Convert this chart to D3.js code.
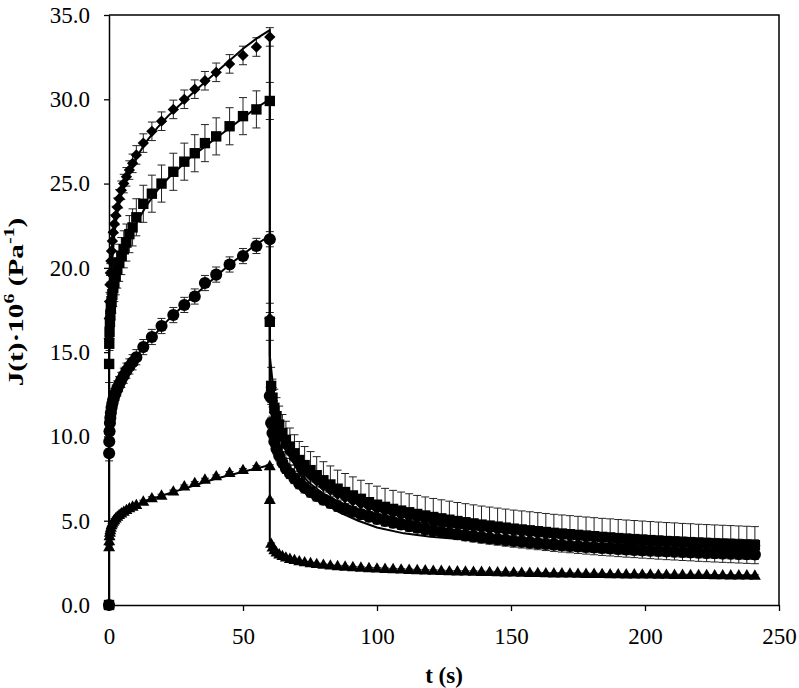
<!DOCTYPE html>
<html>
<head>
<meta charset="utf-8">
<script src="https://cdn.jsdelivr.net/npm/d3@7"></script>
<style>
body { margin: 0; background: #fff; }
svg text { font-family: "Liberation Serif", "Times New Roman", serif; fill: #000; }
</style>
</head>
<body>
<svg id="chart" width="799" height="688"></svg>
<script>
'use strict';

// creep phase sampling (s)
var creepTime = [0, 0.05, 0.1, 0.2, 0.35, 0.5, 0.7, 0.95, 1.25, 1.6, 2.0, 2.5, 3.1, 3.8, 4.6, 5.5, 6.5, 7.6, 8.8, 10.2,
	12.8, 16.0, 19.6, 24.0, 28.1, 32.0, 35.8, 40.0, 45.0, 50.0, 55.0, 60.0];

// recovery phase sampling (s)
var recTime = [60.0, 60.5, 61.0, 61.7, 62.5, 63.5, 64.7, 66.0, 67.5, 69.2, 71.0, 73.0, 75.2, 77.5, 80.0, 82.6, 85.3, 88.1, 91.0, 94.0, 97.0,
	100, 103, 106, 109, 112, 115, 118, 121, 124, 127, 130, 133, 136, 139, 142, 145, 148, 151, 154, 157, 160,
	163, 166, 169, 172, 175, 178, 181, 184, 187, 190, 193, 196, 199, 202, 205, 208, 211, 214, 217, 220,
	223, 226, 229, 232, 235, 238, 241];

// J(t)*1e6 measured
var diamondCreep = [0, 15.8, 17.0, 18.0, 19.0, 19.7, 20.4, 21.0, 21.6, 22.1, 22.6, 23.1, 23.6, 24.1, 24.6, 25.0, 25.4, 25.8, 26.2, 26.7,
	27.4, 28.1, 28.7, 29.4, 30.0, 30.6, 31.1, 31.6, 32.1, 32.6, 33.1, 33.7];
var squareCreep = [0, 14.3, 15.5, 16.2, 16.8, 17.2, 17.6, 18.0, 18.4, 18.8, 19.1, 19.5, 19.9, 20.3, 20.7, 21.1, 21.5, 22.0, 22.4, 23.0,
	23.8, 24.4, 25.0, 25.7, 26.3, 26.8, 27.4, 27.8, 28.4, 29.0, 29.4, 29.9];
var circleCreep = [0, 9.0, 9.7, 10.3, 10.8, 11.1, 11.4, 11.7, 11.95, 12.2, 12.4, 12.6, 12.85, 13.1, 13.35, 13.6, 13.9, 14.15, 14.4, 14.7,
	15.3, 15.9, 16.55, 17.2, 17.8, 18.3, 19.1, 19.6, 20.2, 20.7, 21.3, 21.7];
var triangleCreep = [0, 3.4, 3.75, 4.05, 4.25, 4.4, 4.55, 4.7, 4.8, 4.9, 5.0, 5.1, 5.2, 5.3, 5.4, 5.5, 5.6, 5.7, 5.8, 5.9,
	6.1, 6.3, 6.45, 6.7, 7.0, 7.2, 7.4, 7.6, 7.8, 7.97, 8.15, 8.2];

var diamondRec = [17.0, 12.9, 12.1, 11.4, 10.9, 10.4, 9.9, 9.45, 9.05, 8.65, 8.3, 7.95, 7.65, 7.35, 7.05, 6.8, 6.57, 6.36, 6.17, 5.99, 5.83,
	5.68, 5.55, 5.43, 5.32, 5.22, 5.12, 5.03, 4.95, 4.87, 4.8, 4.73, 4.66, 4.6, 4.54, 4.48, 4.43, 4.38, 4.33, 4.28, 4.24, 4.2,
	4.16, 4.12, 4.08, 4.05, 4.01, 3.98, 3.95, 3.92, 3.89, 3.86, 3.84, 3.81, 3.79, 3.76, 3.74, 3.72, 3.7, 3.68, 3.66, 3.64,
	3.62, 3.6, 3.58, 3.57, 3.55, 3.53, 3.52];
var squareRec = [16.8, 13.0, 12.3, 11.7, 11.2, 10.7, 10.2, 9.8, 9.4, 9.0, 8.6, 8.3, 8.0, 7.7, 7.4, 7.15, 6.9, 6.7, 6.5, 6.3, 6.1,
	5.95, 5.82, 5.7, 5.6, 5.5, 5.4, 5.31, 5.22, 5.14, 5.06, 4.98, 4.91, 4.84, 4.77, 4.71, 4.65, 4.59, 4.53, 4.48, 4.43, 4.38,
	4.33, 4.28, 4.24, 4.2, 4.16, 4.12, 4.08, 4.04, 4.01, 3.97, 3.94, 3.91, 3.88, 3.85, 3.82, 3.79, 3.77, 3.74, 3.72, 3.69,
	3.67, 3.65, 3.63, 3.61, 3.59, 3.57, 3.55];
var circleRec = [12.4, 10.8, 10.2, 9.7, 9.25, 8.85, 8.45, 8.1, 7.8, 7.5, 7.2, 6.95, 6.7, 6.47, 6.25, 6.05, 5.86, 5.69, 5.53, 5.38, 5.24,
	5.11, 4.99, 4.88, 4.78, 4.68, 4.59, 4.5, 4.42, 4.34, 4.27, 4.2, 4.13, 4.07, 4.01, 3.95, 3.9, 3.85, 3.8, 3.75, 3.7, 3.66,
	3.62, 3.58, 3.54, 3.5, 3.47, 3.44, 3.41, 3.38, 3.35, 3.32, 3.29, 3.27, 3.24, 3.22, 3.2, 3.18, 3.16, 3.14, 3.12, 3.1,
	3.08, 3.07, 3.05, 3.04, 3.02, 3.01, 3.0];
var triangleRec = [6.2, 3.6, 3.38, 3.22, 3.08, 2.97, 2.87, 2.78, 2.7, 2.63, 2.56, 2.5, 2.45, 2.4, 2.35, 2.31, 2.27, 2.24, 2.21, 2.18, 2.15,
	2.13, 2.11, 2.09, 2.07, 2.05, 2.03, 2.02, 2.0, 1.99, 1.97, 1.96, 1.95, 1.94, 1.93, 1.92, 1.91, 1.9, 1.89, 1.88, 1.87, 1.86,
	1.85, 1.84, 1.84, 1.83, 1.82, 1.81, 1.81, 1.8, 1.79, 1.79, 1.78, 1.78, 1.77, 1.77, 1.76, 1.76, 1.75, 1.75, 1.74, 1.74,
	1.74, 1.73, 1.73, 1.72, 1.72, 1.72, 1.71];

// standard deviation of each series (creep, recovery)
var sdCreep = [0.55, 1.1, 0.45, 0.12];
var sdRec = [0.35, 1.1, 0.3, 0.08];

// model fit (Burgers) lines
var fitTime = [0, 0, 0.5, 1, 2, 3, 5, 7, 10, 14, 18, 22, 26, 30, 35, 40, 45, 50, 55, 60,
	60, 61, 62, 64, 66, 68, 71, 75, 80, 86, 93, 100, 110, 120, 135, 150, 170, 190, 215, 240];
var diamondFit = [0, 15.6, 18.3, 20.0, 22.0, 23.2, 24.6, 25.5, 26.5, 27.5, 28.3, 29.0, 29.6, 30.2, 30.9, 31.6, 32.3, 33.0, 33.6, 34.1,
	14.8, 13.3, 12.1, 10.6, 9.5, 8.7, 7.8, 6.9, 6.1, 5.5, 5.0, 4.6, 4.25, 4.05, 3.85, 3.75, 3.65, 3.6, 3.55, 3.5];
var squareFit = [0, 14.5, 16.8, 17.9, 19.1, 19.8, 20.8, 21.6, 22.6, 23.7, 24.6, 25.3, 25.9, 26.5, 27.1, 27.7, 28.3, 28.9, 29.5, 30.0,
	13.5, 12.4, 11.5, 10.3, 9.4, 8.7, 7.9, 7.2, 6.6, 6.1, 5.7, 5.4, 5.05, 4.8, 4.5, 4.3, 4.05, 3.85, 3.65, 3.5];
var circleFit = [0, 9.0, 10.9, 11.6, 12.3, 12.8, 13.45, 14.0, 14.7, 15.5, 16.2, 16.9, 17.5, 18.1, 18.8, 19.5, 20.2, 20.8, 21.4, 21.9,
	12.0, 11.0, 10.2, 9.2, 8.5, 7.9, 7.3, 6.7, 6.2, 5.75, 5.35, 5.05, 4.7, 4.45, 4.15, 3.95, 3.7, 3.5, 3.3, 3.15];
var triangleFit = [0, 3.4, 4.3, 4.6, 4.95, 5.15, 5.45, 5.65, 5.9, 6.2, 6.4, 6.6, 6.8, 7.0, 7.25, 7.5, 7.7, 7.9, 8.1, 8.3,
	3.8, 3.4, 3.15, 2.9, 2.75, 2.6, 2.5, 2.4, 2.3, 2.2, 2.12, 2.06, 2.0, 1.95, 1.9, 1.86, 1.82, 1.78, 1.75, 1.72];

var xTicks = [0, 50, 100, 150, 200, 250];
var yTicks = [0, 5, 10, 15, 20, 25, 30, 35];

var margin = {top: 15, right: 20, bottom: 83, left: 109},
	width = 799, height = 688;

function toPoints(times, values, sd) {
	var ret = [];
	for (var i = 0; i < times.length; i++) {
		ret.push({t: times[i], j: values[i], sd: values[i] === 0 ? 0 : sd});
	}
	return ret;
}

function toLine(times, values) {
	return times.map(function (t, i) { return {t: t, j: values[i]}; });
}

var series = [
	{name: 'triangle', creep: triangleCreep, rec: triangleRec, fit: triangleFit, sd: 3,
		symbol: d3.symbol(d3.symbolTriangle, 62), rotate: 0},
	{name: 'circle', creep: circleCreep, rec: circleRec, fit: circleFit, sd: 2,
		symbol: d3.symbol(d3.symbolCircle, 115), rotate: 0},
	{name: 'diamond', creep: diamondCreep, rec: diamondRec, fit: diamondFit, sd: 0,
		symbol: d3.symbol(d3.symbolSquare, 64), rotate: 45},
	{name: 'square', creep: squareCreep, rec: squareRec, fit: squareFit, sd: 1,
		symbol: d3.symbol(d3.symbolSquare, 108), rotate: 0}
];

series.forEach(function (s) {
	s.points = toPoints(creepTime, s.creep, sdCreep[s.sd]).concat(toPoints(recTime, s.rec, sdRec[s.sd]));
	s.line = toLine(fitTime, s.fit);
});

var svg = d3.select('#chart');

var x = d3.scaleLinear()
	.domain([0, 250])
	.range([margin.left, width - margin.right]);

var y = d3.scaleLinear()
	.domain([0, 35])
	.range([height - margin.bottom, margin.top]);

// axes
var xAxis = svg.append('g')
	.attr('transform', 'translate(0,' + y(0) + ')')
	.call(d3.axisBottom(x).tickValues(xTicks).tickSize(6).tickSizeOuter(0).tickPadding(17).tickFormat(d3.format('d')));

var yAxis = svg.append('g')
	.attr('transform', 'translate(' + x(0) + ',0)')
	.call(d3.axisLeft(y).tickValues(yTicks).tickSize(5).tickSizeOuter(0).tickPadding(14).tickFormat(d3.format('.1f')));

[xAxis, yAxis].forEach(function (g) {
	g.attr('font-family', null);
	g.selectAll('text').style('font-size', '23px');
	g.selectAll('line').attr('stroke', '#000').attr('stroke-width', 1.3);
	g.select('.domain').attr('stroke', '#000').attr('stroke-width', 1.5);
});

// frame top and right
svg.append('path')
	.attr('d', 'M' + x(0) + ',' + y(35) + 'H' + x(250) + 'V' + y(0))
	.attr('fill', 'none')
	.attr('stroke', '#000')
	.attr('stroke-width', 1.5);

var plot = svg.append('g');

// error bars
series.forEach(function (s) {
	var eb = plot.append('g')
		.attr('class', 'err ' + s.name)
		.attr('stroke', '#222')
		.attr('stroke-width', 1)
		.attr('fill', 'none');

	eb.selectAll('path')
		.data(s.points.filter(function (d) { return d.sd > 0; }))
		.enter().append('path')
			.attr('d', function (d) {
				var cx = x(d.t), y1 = y(d.j + d.sd), y2 = y(d.j - d.sd);
				return 'M' + (cx - 4) + ',' + y1 + 'H' + (cx + 4) +
					'M' + cx + ',' + y1 + 'V' + y2 +
					'M' + (cx - 4) + ',' + y2 + 'H' + (cx + 4);
			});
});

// markers
series.forEach(function (s) {
	plot.append('g')
		.attr('class', 'marks ' + s.name)
		.selectAll('path')
		.data(s.points)
		.enter().append('path')
			.attr('d', s.symbol)
			.attr('transform', function (d) {
				return 'translate(' + x(d.t) + ',' + y(d.j) + ') rotate(' + s.rotate + ')';
			})
			.attr('fill', '#000');
});

// fitted lines
var line = d3.line()
	.x(function (d) { return x(d.t); })
	.y(function (d) { return y(d.j); });

series.forEach(function (s) {
	plot.append('path')
		.datum(s.line)
		.attr('d', line)
		.attr('fill', 'none')
		.attr('stroke', '#000')
		.attr('stroke-width', 2);
});

// axis titles
svg.append('text')
	.attr('x', (x(0) + x(250)) / 2)
	.attr('y', 683)
	.attr('text-anchor', 'middle')
	.style('font-size', '23px')
	.style('font-weight', 'bold')
	.text('t (s)');

// y title is stretched along its length in the original figure
var yTitle = svg.append('text')
	.attr('transform', 'translate(23,302) rotate(-90) scale(1.33,1)')
	.attr('text-anchor', 'middle')
	.style('font-size', '22px')
	.style('font-weight', 'bold');

yTitle.append('tspan').text('J(t)·10');
yTitle.append('tspan').attr('dy', -9).style('font-size', '15px').text('6');
yTitle.append('tspan').attr('dy', 9).text(' (Pa');
yTitle.append('tspan').attr('dy', -9).style('font-size', '15px').text('-1');
yTitle.append('tspan').attr('dy', 9).text(')');
</script>
</body>
</html>
